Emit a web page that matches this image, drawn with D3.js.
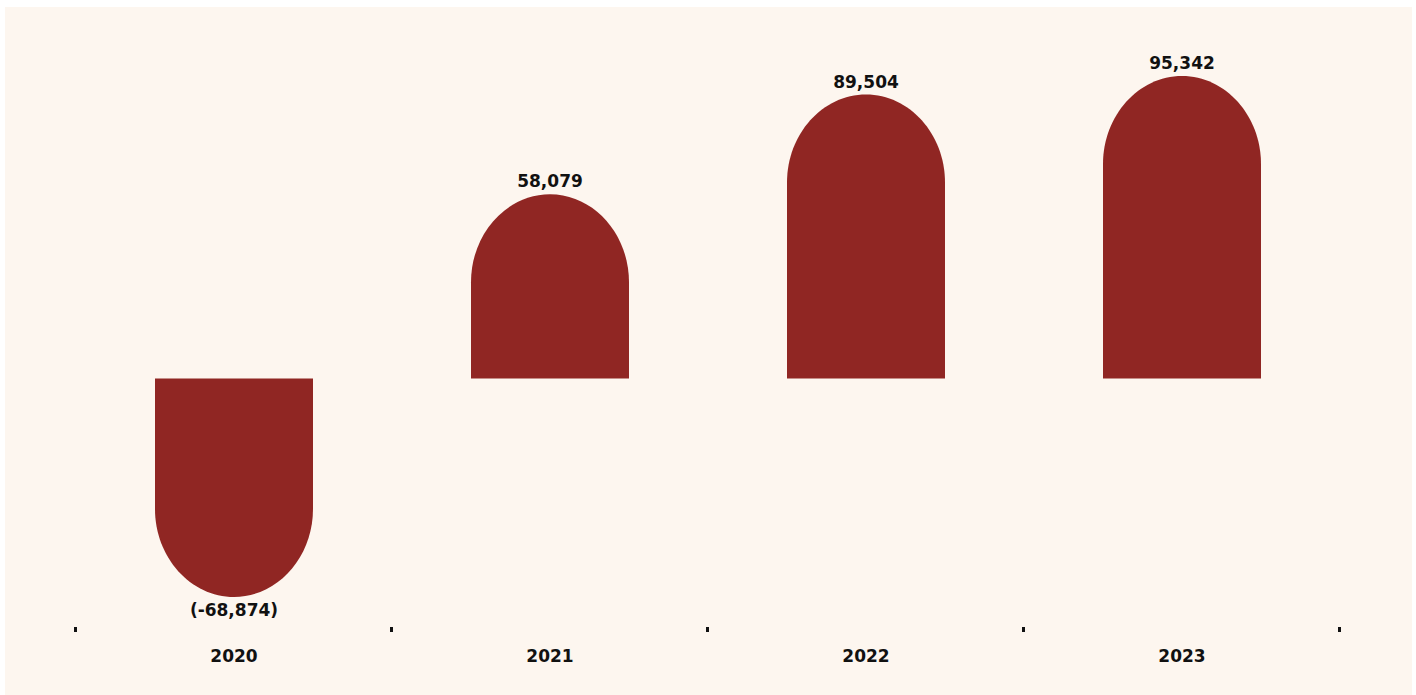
<!DOCTYPE html>
<html>
<head>
<meta charset="utf-8">
<script src="https://cdn.jsdelivr.net/npm/d3@7"></script>
<style>
  html, body { margin: 0; padding: 0; background: #ffffff; }
  svg { display: block; }
</style>
</head>
<body>
<svg id="chart" width="1416" height="695"></svg>
<script>
const years = ["2020", "2021", "2022", "2023"];
const values = [-68874, 58079, 89504, 95342];
const valueLabels = ["(-68,874)", "58,079", "89,504", "95,342"];

const W = 1416, H = 695;
const svg = d3.select("#chart");

svg.append("rect").attr("x", 5).attr("y", 7).attr("width", 1407).attr("height", 688).attr("fill", "#fdf6ef");

const x = d3.scaleBand().domain(years).range([76, 1340]).paddingInner(0.5).paddingOuter(0.25);
const y = d3.scaleLinear().domain([-68874, 95342]).range([597, 76]);

const bw = x.bandwidth();
const curveH = 88;
const k = 0.55;

function barPath(d, i) {
  const v = values[i];
  const x0 = x(years[i]), x1 = x0 + bw, cx = x0 + bw / 2, hw = bw / 2;
  const y0 = y(0), ye = y(v);
  const dir = v >= 0 ? 1 : -1;
  const ys = ye + dir * curveH;
  const p = d3.path();
  p.moveTo(x0, y0);
  p.lineTo(x0, ys);
  p.bezierCurveTo(x0, ys - dir * curveH * k, cx - hw * k, ye, cx, ye);
  p.bezierCurveTo(cx + hw * k, ye, x1, ys - dir * curveH * k, x1, ys);
  p.lineTo(x1, y0);
  p.closePath();
  return p.toString();
}

svg.append("g").selectAll("path").data(values).join("path")
  .attr("d", barPath)
  .attr("fill", "#902623");

svg.append("g").selectAll("text").data(values).join("text")
  .attr("x", (d, i) => x(years[i]) + bw / 2)
  .attr("y", (d, i) => d >= 0 ? y(d) - 7 : y(d) + 19)
  .attr("text-anchor", "middle")
  .attr("font-family", "'DejaVu Sans', sans-serif")
  .attr("font-weight", "bold")
  .attr("font-size", 17)
  .attr("fill", "#111")
  .text((d, i) => valueLabels[i]);

const xa = d3.scaleBand().domain(years).range([75, 1339]);
const ag = svg.append("g").attr("transform", "translate(0,627)");
ag.selectAll("rect.tick").data(d3.range(years.length + 1)).join("rect")
  .attr("x", i => 75 + i * xa.step() - 1)
  .attr("y", 0).attr("width", 3).attr("height", 5).attr("fill", "#111");
ag.selectAll("text").data(years).join("text")
  .attr("x", d => xa(d) + xa.bandwidth() / 2 + 1)
  .attr("y", 35)
  .attr("text-anchor", "middle")
  .attr("font-family", "'DejaVu Sans', sans-serif")
  .attr("font-weight", "bold")
  .attr("font-size", 17)
  .attr("fill", "#111")
  .text(d => d);
</script>
</body>
</html>
